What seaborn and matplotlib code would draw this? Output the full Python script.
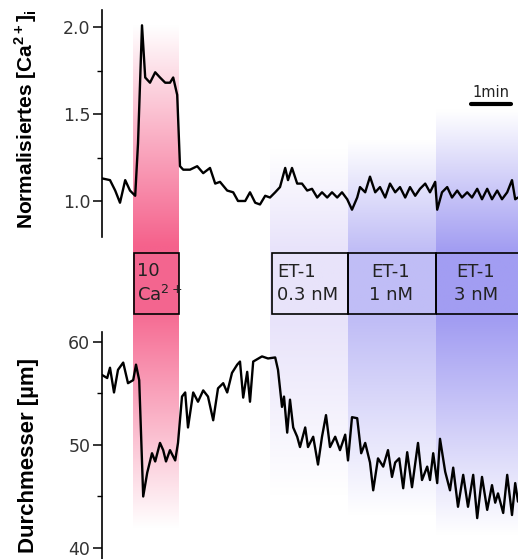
import numpy as np
import pandas as pd
import matplotlib
matplotlib.use("Agg")
import matplotlib.pyplot as plt
import seaborn as sns
from matplotlib.patches import Rectangle
from matplotlib.colors import to_rgb

# ---------------- data (time in minutes) ----------------
ca_time = [0.00, 0.20, 0.33, 0.45, 0.58, 0.70, 0.83, 0.90, 1.00, 1.08, 1.20, 1.33, 1.45, 1.58, 1.70,
           1.78, 1.88, 1.95, 2.03, 2.20, 2.38, 2.53, 2.70, 2.83, 2.95, 3.13, 3.28, 3.40, 3.58, 3.70,
           3.83, 3.95, 4.08, 4.20, 4.33, 4.45, 4.58, 4.65, 4.75, 4.88, 5.00, 5.13, 5.25, 5.38, 5.50,
           5.63, 5.75, 5.88, 6.00, 6.13, 6.25, 6.38, 6.45, 6.58, 6.70, 6.83, 6.95, 7.08, 7.20, 7.33,
           7.45, 7.58, 7.70, 7.83, 7.95, 8.08, 8.20, 8.33, 8.38, 8.50, 8.63, 8.75, 8.88, 9.00, 9.13,
           9.25, 9.38, 9.50, 9.63, 9.75, 9.88, 10.00, 10.13, 10.25, 10.33, 10.40]
ca_value = [1.13, 1.12, 1.06, 0.99, 1.12, 1.06, 1.03, 1.33, 2.01, 1.71, 1.68, 1.74, 1.71, 1.68, 1.68,
            1.71, 1.61, 1.20, 1.18, 1.18, 1.20, 1.16, 1.19, 1.10, 1.11, 1.06, 1.05, 1.00, 1.00, 1.05,
            0.99, 0.98, 1.03, 1.02, 1.05, 1.08, 1.19, 1.12, 1.19, 1.10, 1.10, 1.06, 1.07, 1.02, 1.05,
            1.02, 1.05, 1.02, 1.05, 1.01, 0.95, 1.02, 1.08, 1.05, 1.14, 1.05, 1.08, 1.02, 1.10, 1.05,
            1.08, 1.02, 1.08, 1.03, 1.07, 1.10, 1.05, 1.11, 0.95, 1.05, 1.08, 1.02, 1.06, 1.02, 1.05,
            1.02, 1.07, 1.01, 1.07, 1.01, 1.06, 1.01, 1.05, 1.12, 1.01, 1.02]

dia_time = [0.00, 0.13, 0.20, 0.30, 0.40, 0.53, 0.65, 0.78, 0.85, 0.93, 1.03, 1.13, 1.25, 1.33, 1.45,
            1.53, 1.60, 1.70, 1.83, 1.90, 2.00, 2.08, 2.15, 2.28, 2.40, 2.53, 2.65, 2.78, 2.90, 3.03,
            3.13, 3.25, 3.38, 3.45, 3.53, 3.63, 3.70, 3.78, 4.00, 4.15, 4.33, 4.40, 4.50, 4.55, 4.63,
            4.70, 4.78, 4.88, 4.95, 5.08, 5.15, 5.28, 5.40, 5.50, 5.60, 5.70, 5.83, 5.95, 6.08, 6.15,
            6.25, 6.38, 6.48, 6.58, 6.70, 6.78, 6.90, 7.03, 7.15, 7.25, 7.33, 7.43, 7.53, 7.63, 7.75,
            7.90, 8.00, 8.13, 8.20, 8.28, 8.38, 8.45, 8.58, 8.70, 8.78, 8.90, 9.03, 9.15, 9.28, 9.38,
            9.50, 9.63, 9.75, 9.83, 9.90, 10.03, 10.13, 10.25, 10.33, 10.40]
dia_value = [56.8, 56.5, 57.5, 55.1, 57.3, 58.0, 56.0, 56.3, 57.8, 56.3, 45.0, 47.3, 49.2, 48.4, 50.2,
             49.5, 48.4, 49.5, 48.5, 50.2, 54.7, 55.1, 51.7, 55.1, 54.2, 55.3, 54.7, 52.4, 55.5, 56.0,
             55.1, 57.0, 57.8, 58.1, 54.6, 57.1, 54.2, 58.1, 58.6, 58.4, 58.5, 57.3, 53.7, 54.7, 51.2,
             54.4, 51.7, 50.8, 49.8, 51.7, 49.8, 50.8, 48.1, 50.8, 52.9, 49.8, 50.8, 49.5, 51.0, 48.5,
             52.7, 52.6, 49.2, 50.2, 48.3, 45.6, 48.7, 47.9, 49.5, 46.9, 48.3, 48.7, 45.8, 49.3, 45.9,
             50.2, 46.6, 47.9, 46.6, 49.2, 46.3, 50.6, 47.4, 45.6, 47.8, 44.0, 47.1, 44.0, 47.1, 42.9,
             46.9, 43.7, 46.1, 44.4, 45.3, 43.4, 47.1, 43.2, 46.3, 44.5]

# treatment periods (minutes)
ca_period = (0.78, 1.93)
et_starts = [4.2, 6.15, 8.35]
et_end = 10.4
et_labels = ["ET-1\n0.3 nM", "ET-1\n1 nM", "ET-1\n3 nM"]
ca_label = "10\nCa$^{2+}$"

ca_ticks = [1.0, 1.5, 2.0]
dia_ticks = [40, 50, 60]
scale_bar_start = 9.23
scale_bar_len = 1.0

# ---------------- style ----------------
sns.set_theme(style="white")
plt.rcParams["font.family"] = ["DejaVu Sans"]
plt.rcParams["mathtext.fontset"] = "custom"
plt.rcParams["mathtext.rm"] = "DejaVu Sans"
plt.rcParams["mathtext.bf"] = "Liberation Sans:bold"

W, H = 518, 559
fig = plt.figure(figsize=(W / 100, H / 100), dpi=100)
fig.patch.set_facecolor("white")

xl = 102 / W
xw = 1 - xl
xlim = (0, 10.4)

# background axes for gradient bands and boxes (y in figure fraction)
bg = fig.add_axes([xl, 0, xw, 1], zorder=0)
bg.set_xlim(xlim)
bg.set_ylim(0, 1)
bg.axis("off")

def py(p):
    return 1 - p / H

ygrid = np.linspace(0, 1, 600)

def band(x0, x1, color, top0, peak_top, peak_bot, bot0):
    c = np.array(to_rgb(color))
    pts = [py(bot0), py(peak_bot), py(peak_top), py(top0)]
    inten = np.interp(ygrid, pts, [0, 1, 1, 0])
    img = 1 - inten[:, None] * (1 - c[None, :])
    img = img[:, None, :]
    bg.imshow(img, extent=(x0, x1, 0, 1), origin="lower", aspect="auto",
              interpolation="bilinear", zorder=0)

band(ca_period[0], ca_period[1], "#F5628C", 25, 245, 300, 528)
et_colors = ["#E8E3FA", "#C0BDF6", "#A29DF2"]
et_tops = [150, 140, 110]
et_bots = [495, 515, 535]
et_ends = et_starts[1:] + [et_end]
for s, e, col, t0, b0 in zip(et_starts, et_ends, et_colors, et_tops, et_bots):
    band(s, e, col, t0, 250, 320, b0)
bg.set_xlim(xlim)
bg.set_ylim(0, 1)

box_y0, box_y1 = py(314), py(253)
bg.add_patch(Rectangle((ca_period[0] + 0.02, box_y0), ca_period[1] - ca_period[0] - 0.03,
                       box_y1 - box_y0, facecolor="#F3658F", edgecolor="black", lw=1.2, zorder=2))
bg.text(ca_period[0] + 0.09, (box_y0 + box_y1) / 2, ca_label, ha="left", va="center",
        fontsize=13, color="#222222", linespacing=1.25, zorder=3)
for i, (s, e, lab) in enumerate(zip(et_starts, et_ends, et_labels)):
    x0 = s + (0.05 if i == 0 else 0)
    x1 = e + (0.3 if i == 2 else 0)
    bg.add_patch(Rectangle((x0, box_y0), x1 - x0, box_y1 - box_y0, facecolor="none",
                           edgecolor="black", lw=1.2, zorder=2))
    if i == 0:
        bg.text(x0 + 0.12, (box_y0 + box_y1) / 2, lab, ha="left", va="center",
                fontsize=13, color="#222222", linespacing=1.35, multialignment="left", zorder=3)
    else:
        bg.text((s + e) / 2 - 0.03, (box_y0 + box_y1) / 2, lab, ha="center", va="center",
                fontsize=13, color="#222222", linespacing=1.35, multialignment="center", zorder=3)

# data axes
ax1 = fig.add_axes([xl, py(237), xw, 227 / H], zorder=1)
ax2 = fig.add_axes([xl, 0, xw, 227 / H], zorder=1)

ca_df = pd.DataFrame({"t": ca_time, "v": ca_value})
dia_df = pd.DataFrame({"t": dia_time, "v": dia_value})
sns.lineplot(data=ca_df, x="t", y="v", ax=ax1, color="black", lw=1.7, estimator=None)
sns.lineplot(data=dia_df, x="t", y="v", ax=ax2, color="black", lw=1.7, estimator=None)

ax1.set_ylim(0.793, 2.098)
ax2.set_ylim(38.93, 60.97)
for ax, ticks, minor in [(ax1, ca_ticks, [1.25, 1.75]), (ax2, dia_ticks, [45, 55])]:
    ax.set_xlim(xlim)
    ax.patch.set_visible(False)
    for sp in ["top", "right", "bottom"]:
        ax.spines[sp].set_visible(False)
    ax.spines["left"].set_color("black")
    ax.spines["left"].set_linewidth(1.2)
    ax.set_xticks([])
    ax.set_xlabel("")
    ax.set_yticks(ticks)
    ax.set_yticks(minor, minor=True)
    ax.tick_params(axis="y", which="major", direction="out", length=6.5, width=1.1,
                   color="black", pad=2, labelsize=12.5, labelcolor="#333333", left=True)
    ax.tick_params(axis="y", which="minor", direction="out", length=3.5, width=1.0,
                   color="black", left=True)

ax1.set_yticklabels(["1.0", "1.5", "2.0"])
ax2.set_yticklabels(["40", "50", "60"])

ax1.set_ylabel(r"Normalisiertes [Ca$^{\mathbf{2+}}$]$_{\mathbf{i}}$", fontsize=15,
               fontweight="bold", family="Liberation Sans", color="black")
ax2.set_ylabel("Durchmesser [µm]", fontsize=16, fontweight="bold",
               family="Liberation Sans", color="black")
ax1.yaxis.set_label_coords(-0.152, 0.52)
ax2.yaxis.set_label_coords(-0.152, 0.458)

# scale bar (1 min)
trans = ax1.get_xaxis_transform()
bar_y = (237 - 104) / 227
ax1.plot([scale_bar_start, scale_bar_start + scale_bar_len], [bar_y, bar_y], transform=trans,
         color="black", lw=3, solid_capstyle="round", clip_on=False)
ax1.text(scale_bar_start + scale_bar_len / 2, (237 - 97) / 227, "1min", transform=trans,
         ha="center", va="baseline", fontsize=10.5, color="#222222")

fig.savefig("out.png", dpi=100, facecolor="white")
